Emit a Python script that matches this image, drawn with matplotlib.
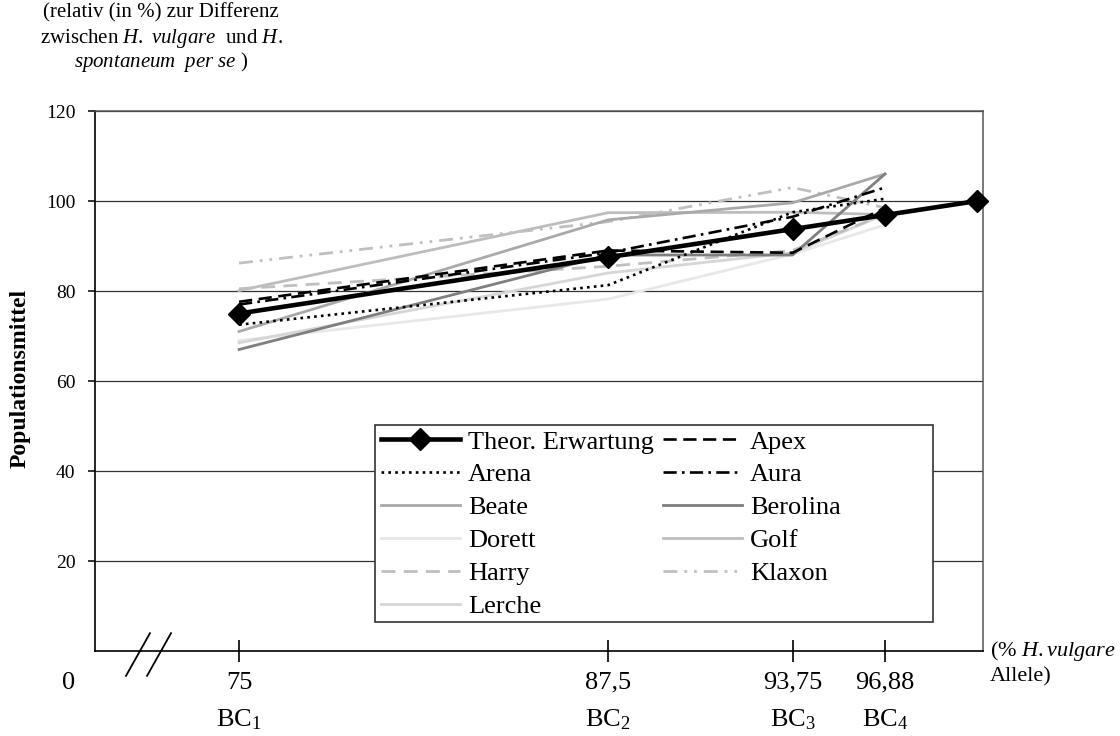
import matplotlib
matplotlib.use("Agg")
import matplotlib.pyplot as plt
from matplotlib.lines import Line2D
from matplotlib.patches import Rectangle

plt.rcParams["font.family"] = ["Liberation Serif", "DejaVu Serif"]
plt.rcParams["mathtext.fontset"] = "custom"
plt.rcParams["mathtext.rm"] = "Liberation Serif"
plt.rcParams["mathtext.it"] = "Liberation Serif:italic"

# Backcross generations (% H. vulgare alleles)
allele_pct = [75, 87.5, 93.75, 96.88]
allele_labels = ["75", "87,5", "93,75", "96,88"]
generation_labels = ["BC$_1$", "BC$_2$", "BC$_3$", "BC$_4$"]

# Theoretical expectation runs up to 100 %
theor_x = [75, 87.5, 93.75, 96.88, 100]
theor = [75, 87.5, 93.75, 96.88, 100]

# Population means per cultivar (relative, %)
apex = [77.6, 89.0, 88.5, 98.5]
arena = [72.5, 81.3, 97.5, 100.5]
aura = [77.0, 88.5, 96.5, 103.0]
beate = [71.0, 95.8, 99.6, 106.0]
berolina = [67.0, 88.0, 88.0, 106.0]
dorett = [69.0, 78.2, 88.2, 94.7]
golf = [80.1, 97.4, 97.5, 97.0]
harry = [80.5, 85.5, 89.0, 97.0]
klaxon = [86.2, 95.4, 103.0, 98.5]
lerche = [68.5, 84.0, 88.5, 97.0]

W, H = 1120, 736
fig = plt.figure(figsize=(W / 100, H / 100), dpi=100)
ax = fig.add_axes([95 / W, 1 - 651 / H, (983 - 95) / W, (651 - 111) / H])

lw = 1.9
h = {}
h["Theor. Erwartung"], = ax.plot(theor_x, theor, color="black", lw=3.3, marker="D",
                                 markersize=11, zorder=10, clip_on=False)
h["Apex"], = ax.plot(allele_pct, apex, color="black", lw=lw, dashes=(5, 2.5), zorder=8)
h["Arena"], = ax.plot(allele_pct, arena, color="black", lw=lw, dashes=(1, 1.6), zorder=8)
h["Aura"], = ax.plot(allele_pct, aura, color="black", lw=lw, dashes=(5, 2, 1, 2), zorder=8)
h["Beate"], = ax.plot(allele_pct, beate, color="#a9a9a9", lw=2.0, zorder=6)
h["Berolina"], = ax.plot(allele_pct, berolina, color="#7f7f7f", lw=2.0, zorder=6)
h["Dorett"], = ax.plot(allele_pct, dorett, color="#e8e8e8", lw=2.0, zorder=4)
h["Golf"], = ax.plot(allele_pct, golf, color="#bdbdbd", lw=2.0, zorder=5)
h["Harry"], = ax.plot(allele_pct, harry, color="#bfbfbf", lw=2.0, dashes=(5, 3), zorder=5)
h["Klaxon"], = ax.plot(allele_pct, klaxon, color="#c0c0c0", lw=2.0,
                       dashes=(5, 2.5, 1, 2.5, 1, 2.5), zorder=5)
h["Lerche"], = ax.plot(allele_pct, lerche, color="#d6d6d6", lw=2.0, zorder=4)

ax.set_xlim(70.12, 100.2)
ax.set_ylim(0, 120)

# Horizontal grid
ax.set_yticks([20, 40, 60, 80, 100, 120])
ax.yaxis.grid(True, color="#333333", lw=0.9)
ax.set_axisbelow(True)
ax.tick_params(axis="y", direction="out", length=5, width=1.1, pad=9,
               labelsize=14, colors="black")
for s in ["top", "right"]:
    ax.spines[s].set_color("#555555")
    ax.spines[s].set_linewidth(1.1)
for s in ["left", "bottom"]:
    ax.spines[s].set_color("black")
    ax.spines[s].set_linewidth(1.2)

# x ticks crossing the axis, labels drawn as two text rows
ax.set_xticks(allele_pct)
ax.set_xticklabels([])
ax.tick_params(axis="x", direction="inout", length=16, width=1.2)
xt = ax.get_xaxis_transform()
for xv, num, gen in zip(allele_pct, allele_labels, generation_labels):
    ax.text(xv, -0.059, num, transform=xt, ha="center", va="center", fontsize=19)
    ax.text(xv, -0.128, gen, transform=xt, ha="center", va="center", fontsize=19)
ax.text(-0.03, -0.059, "0", transform=ax.transAxes, ha="center", va="center", fontsize=19)

# Axis break marks
for x0 in (0.0349, 0.0586):
    ax.add_line(Line2D([x0, x0 + 0.027], [-0.046, 0.033], transform=ax.transAxes,
                       color="black", lw=1.3, clip_on=False))

# x-axis unit note
ax.text(1.008, -0.022, "(% $\\mathit{H.vulgare}$\nAllele)", transform=ax.transAxes,
        ha="left", va="center", fontsize=16, linespacing=1.3)

# y label and heading
fig.text(20 / W, 1 - 378 / H, "Populationsmittel", rotation=90, ha="center",
         va="center", fontsize=17, fontweight="bold")
fig.text(161 / W, 1 - 13 / H, "(relativ (in %) zur Differenz", ha="center",
         va="center", fontsize=15)
fig.text(161 / W, 1 - 38 / H, "zwischen $\\mathit{H.\\ vulgare}$  und $\\mathit{H.}$",
         ha="center", va="center", fontsize=15)
fig.text(161 / W, 1 - 62 / H, "$\\mathit{spontaneum\\ \\ per\\ se}$ )", ha="center",
         va="center", fontsize=15)

# Legend box (row-wise order: left column first, then right column)
bx0, bx1 = (375 - 95) / 888, (933 - 95) / 888
by0, by1 = (651 - 622) / 540, (651 - 425) / 540
ax.add_patch(Rectangle((bx0, by0), bx1 - bx0, by1 - by0, transform=ax.transAxes,
                       facecolor="white", edgecolor="#333333", lw=1.2, zorder=20))
order = ["Theor. Erwartung", "Arena", "Beate", "Dorett", "Harry", "Lerche",
         "Apex", "Aura", "Berolina", "Golf", "Klaxon"]
leg = ax.legend([h[k] for k in order], order, loc="upper left",
                bbox_to_anchor=(bx0 + 0.002, by1 - 0.002), ncol=2,
                frameon=False, fontsize=19, handlelength=3.0, handletextpad=0.3,
                columnspacing=0.35, labelspacing=0.36, borderpad=0.15,
                borderaxespad=0.0)
leg.set_zorder(21)

fig.savefig("out.png", dpi=100)
